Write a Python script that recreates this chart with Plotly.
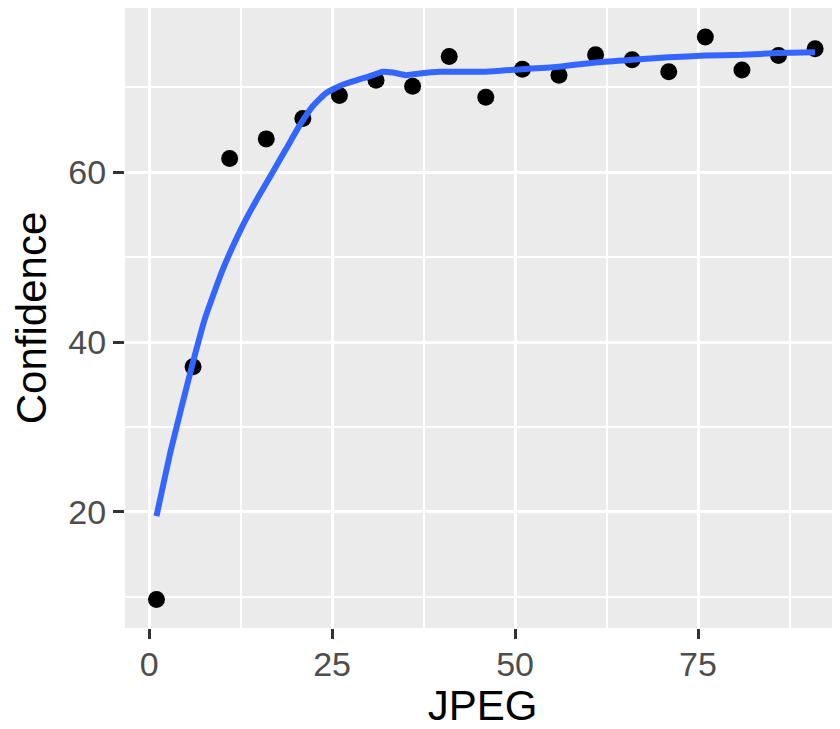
import plotly.graph_objects as go

jpeg = [1, 6, 11, 16, 21, 26, 31, 36, 41, 46, 51, 56, 61, 66, 71, 76, 81, 86, 91]
confidence = [9.7, 37.1, 61.6, 63.9, 66.3, 69.0, 70.8, 70.1, 73.6, 68.8, 72.1, 71.4,
              73.8, 73.2, 71.8, 75.9, 72.0, 73.7, 74.5]

smooth_x = [1, 3, 5.8, 7.6, 10, 12.5, 14.6, 16.9, 18.7, 20.5, 22.4, 24.2, 26.5, 28.7,
            30.6, 31.9, 33.3, 35.1, 37, 39.7, 42.4, 46, 51, 56, 61, 66, 71, 76, 81, 86, 91]
smooth_y = [19.5, 27.4, 37.0, 42.7, 48.4, 53.2, 56.6, 60.0, 62.7, 65.4, 67.8, 69.3, 70.3, 70.9,
            71.4, 71.8, 71.7, 71.4, 71.6, 71.8, 71.8, 71.8, 72.1, 72.4, 72.9, 73.2, 73.5, 73.7,
            73.8, 74.0, 74.1]

x_ticks = [0, 25, 50, 75]
y_ticks = [20, 40, 60]

fig = go.Figure()
fig.add_trace(go.Scatter(x=jpeg, y=confidence, mode="markers",
                         marker=dict(color="black", size=17, line=dict(width=0)),
                         showlegend=False, hoverinfo="skip"))
fig.add_trace(go.Scatter(x=smooth_x, y=smooth_y, mode="lines",
                         line=dict(color="#3366FF", width=6, shape="spline", smoothing=0.5),
                         showlegend=False, hoverinfo="skip"))

font = "Liberation Sans, Arial, sans-serif"
fig.update_layout(
    width=832, height=721,
    margin=dict(l=117, r=0, t=0, b=101, pad=0),
    paper_bgcolor="white", plot_bgcolor="#EBEBEB",
    font=dict(family=font),
    xaxis=dict(range=[-3.3, 94.4], tickvals=x_ticks, ticktext=[str(v) for v in x_ticks],
               showgrid=True, gridcolor="white", gridwidth=3,
               minor=dict(tickvals=[12.5, 37.5, 62.5, 87.5], showgrid=True, gridcolor="white", gridwidth=1.5, ticks=""),
               ticks="outside", ticklen=10, tickwidth=3, tickcolor="#333333",
               ticklabelstandoff=-4,
               tickfont=dict(size=34, color="#4D4D4D", family=font),
               zeroline=False, showline=False, automargin=False,
               title=dict(text="JPEG", font=dict(size=42, color="black", family=font), standoff=13)),
    yaxis=dict(range=[6.35, 79.3], tickvals=y_ticks, ticktext=[str(v) for v in y_ticks],
               showgrid=True, gridcolor="white", gridwidth=3,
               minor=dict(tickvals=[10, 30, 50, 70], showgrid=True, gridcolor="white", gridwidth=1.5, ticks=""),
               ticks="outside", ticklen=11, tickwidth=3, tickcolor="#333333",
               tickfont=dict(size=34, color="#4D4D4D", family=font),
               zeroline=False, showline=False, automargin=False,
               title=dict(text="Confidence", font=dict(size=42, color="black", family=font), standoff=10)),
)
fig.write_html("out.html")
